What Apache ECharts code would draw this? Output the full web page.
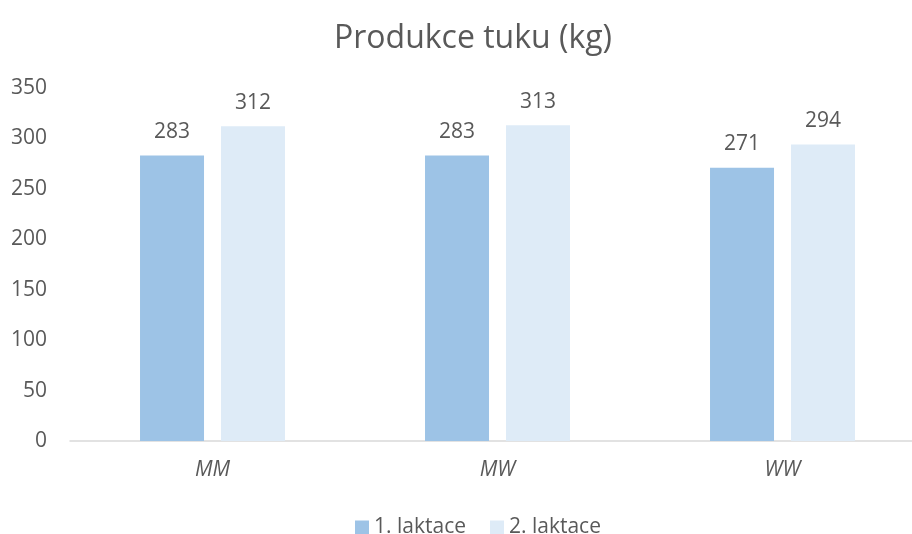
<!DOCTYPE html>
<html>
<head>
<meta charset="utf-8">
<script src="https://cdn.jsdelivr.net/npm/echarts@6/dist/echarts.min.js"></script>
<style>
  html, body { margin: 0; padding: 0; background: #fff; overflow: hidden; }
  #chart { width: 946px; height: 534px; }
</style>
</head>
<body>
<div id="chart"></div>
<script>
const categories = ["MM", "MW", "WW"];
const laktace1 = [283, 283, 271];
const laktace2 = [312, 313, 294];
const seriesNames = ["1. laktace", "2. laktace"];

const textColor = "#595959";
const font = "'Open Sans', sans-serif";

const chart = echarts.init(document.getElementById("chart"));

const labelStyle = {
  show: true,
  position: "top",
  distance: 13,
  color: textColor,
  fontSize: 21,
  fontFamily: font,
};

chart.setOption({
  animation: false,
  title: {
    text: "Produkce tuku (kg)",
    left: "center",
    top: 18,
    textStyle: {
      color: textColor,
      fontSize: 32,
      fontWeight: "normal",
      fontFamily: font,
    },
  },
  legend: {
    top: 512,
    left: 350,
    itemWidth: 14,
    itemHeight: 14,
    itemGap: 24,
    icon: "rect",
    textStyle: { color: textColor, fontSize: 21, fontFamily: font },
    data: seriesNames,
  },
  grid: {
    left: 70,
    right: 21,
    top: 88,
    bottom: 93,
    containLabel: false,
  },
  xAxis: {
    type: "category",
    data: categories,
    axisLine: { lineStyle: { color: "#d9d9d9", width: 1.5 } },
    axisTick: { show: false },
    axisLabel: {
      color: textColor,
      fontSize: 21,
      fontStyle: "italic",
      fontFamily: font,
      margin: 19,
    },
  },
  yAxis: {
    type: "value",
    min: 0,
    max: 350,
    interval: 50,
    splitLine: { show: false },
    axisLine: { show: false },
    axisLabel: {
      color: textColor,
      fontSize: 21,
      fontFamily: font,
      margin: 23,
    },
  },
  series: [
    {
      name: seriesNames[0],
      type: "bar",
      data: laktace1,
      barWidth: 64,
      barGap: "26.5%",
      itemStyle: { color: "#9dc3e6" },
      label: labelStyle,
    },
    {
      name: seriesNames[1],
      type: "bar",
      data: laktace2,
      barWidth: 64,
      itemStyle: { color: "#deebf7" },
      label: labelStyle,
    },
  ],
});
</script>
</body>
</html>
